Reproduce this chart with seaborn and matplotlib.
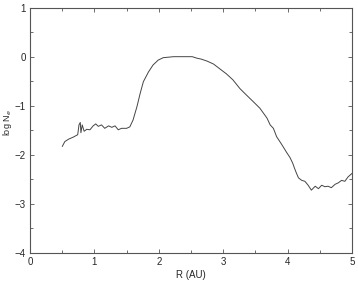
import matplotlib
matplotlib.use("Agg")
import matplotlib.pyplot as plt
import numpy as np
import pandas as pd
import seaborn as sns

# radius (AU) and log electron density
r_au = [0.50, 0.54, 0.60, 0.67, 0.74, 0.76, 0.78, 0.79, 0.81, 0.84, 0.88, 0.93,
        0.98, 1.02, 1.06, 1.11, 1.16, 1.22, 1.27, 1.32, 1.37, 1.42, 1.50, 1.55,
        1.60, 1.66, 1.71, 1.76, 1.84, 1.91, 1.99, 2.07, 2.15, 2.23, 2.33, 2.43,
        2.52, 2.59, 2.66, 2.75, 2.85, 2.95, 3.05, 3.15, 3.26, 3.36, 3.47, 3.57,
        3.68, 3.73, 3.78, 3.83, 3.91, 3.99, 4.04, 4.08, 4.11, 4.14, 4.17, 4.22,
        4.27, 4.32, 4.37, 4.43, 4.48, 4.53, 4.58, 4.63, 4.68, 4.74, 4.79, 4.84,
        4.89, 4.94, 5.00]
log_ne = [-1.83, -1.73, -1.68, -1.64, -1.59, -1.39, -1.34, -1.55, -1.39, -1.52,
          -1.48, -1.49, -1.41, -1.37, -1.42, -1.39, -1.46, -1.41, -1.44, -1.41,
          -1.49, -1.46, -1.46, -1.43, -1.29, -1.02, -0.75, -0.51, -0.31, -0.17,
          -0.07, -0.02, -0.01, 0.00, 0.00, 0.00, 0.00, -0.03, -0.05, -0.09,
          -0.15, -0.25, -0.35, -0.47, -0.65, -0.78, -0.92, -1.05, -1.25, -1.39,
          -1.46, -1.63, -1.79, -1.96, -2.06, -2.17, -2.28, -2.38, -2.47, -2.52,
          -2.54, -2.62, -2.72, -2.64, -2.69, -2.62, -2.65, -2.64, -2.67, -2.60,
          -2.57, -2.52, -2.54, -2.45, -2.38]

df = pd.DataFrame({"R": r_au, "logNe": log_ne})

sns.set_style("ticks")
plt.rcParams['font.family'] = ['Liberation Sans', 'DejaVu Sans']

fig = plt.figure(figsize=(3.58, 2.82), dpi=100)
ax = fig.add_axes([0.084, 0.103, 0.899, 0.870])
sns.lineplot(data=df, x="R", y="logNe", ax=ax, color="#444444", linewidth=0.7, sort=False)

ax.set_xlim(0, 5)
ax.set_ylim(-4, 1)
ax.set_xticks([0, 1, 2, 3, 4, 5])
ax.set_yticks([-4, -3, -2, -1, 0, 1])
ax.set_xticks(np.arange(0, 5.01, 0.5), minor=True)
ax.set_yticks(np.arange(-4, 1.01, 0.5), minor=True)
ax.tick_params(which="both", direction="in", top=True, right=True,
               labelsize=7, color="#555555", width=0.6, pad=3)
ax.tick_params(which="major", length=3)
ax.tick_params(which="minor", length=2)
for s in ax.spines.values():
    s.set_linewidth(0.8)
    s.set_color("#555555")

ax.set_xlabel("R (AU)", fontsize=7, labelpad=2)
ax.set_ylabel(r"log N$_e$", fontsize=6.5)
ax.yaxis.set_label_coords(-0.05, 0.53)

fig.savefig("out.png", dpi=100)
